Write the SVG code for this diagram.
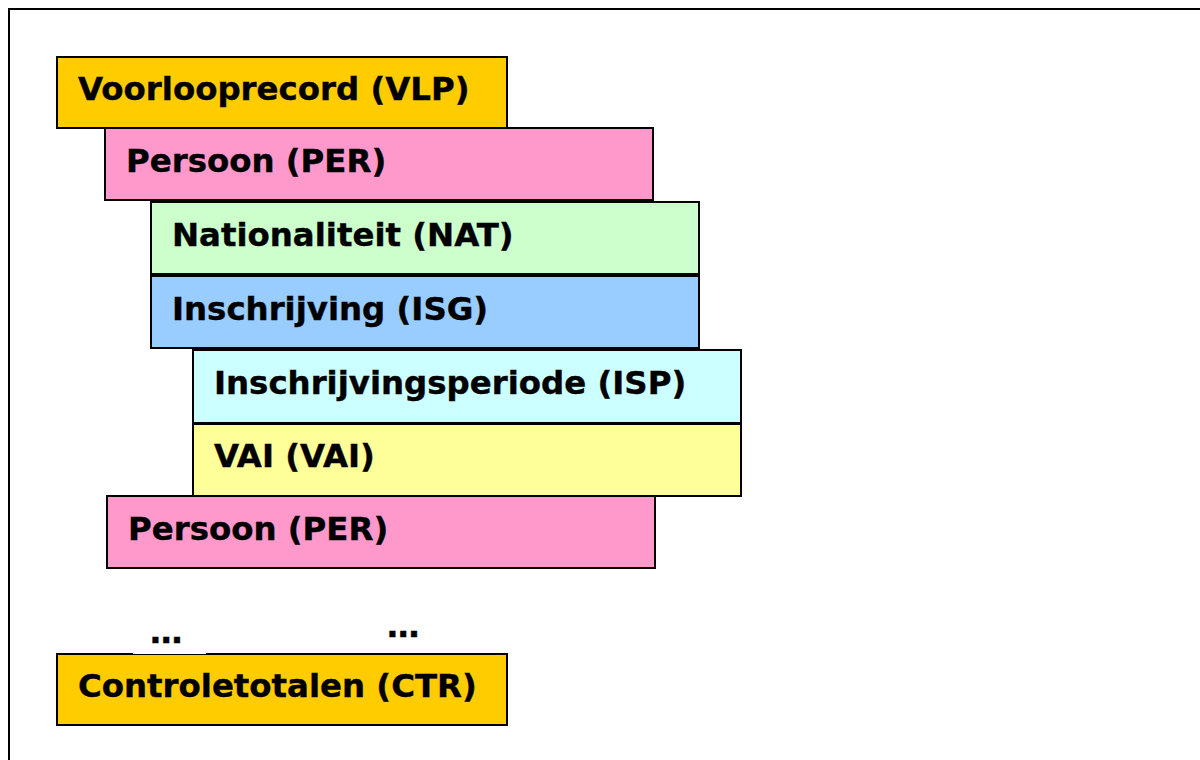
<svg xmlns="http://www.w3.org/2000/svg" width="1200" height="760" viewBox="0 0 1200 760">
<style>
.box{stroke:#000;stroke-width:2}
.lbl{font-family:"DejaVu Sans","Liberation Sans",sans-serif;font-weight:bold;font-size:32.4px;fill:#000;stroke:#000;stroke-width:0.4}
</style>
<rect x="0" y="0" width="1200" height="760" fill="#fff"/>
<rect x="9" y="9" width="1200" height="800" fill="none" stroke="#000" stroke-width="2"/>
<g id="vlp"><rect class="box" x="57" y="57" width="450" height="71" fill="#FFCC00"/><text class="lbl" x="78" y="100">Voorlooprecord (VLP)</text></g>
<g id="per1"><rect class="box" x="105" y="128" width="548" height="72" fill="#FF99CC"/><text class="lbl" x="126" y="172">Persoon (PER)</text></g>
<g id="nat"><rect class="box" x="151" y="202" width="548" height="72" fill="#CCFFCC"/><text class="lbl" x="172" y="246">Nationaliteit (NAT)</text></g>
<g id="isg"><rect class="box" x="151" y="276" width="548" height="72" fill="#99CCFF"/><text class="lbl" x="172" y="320">Inschrijving (ISG)</text></g>
<g id="isp"><rect class="box" x="193" y="350" width="548" height="73" fill="#CCFFFF"/><text class="lbl" x="214" y="394">Inschrijvingsperiode (ISP)</text></g>
<g id="vai"><rect class="box" x="193" y="424" width="548" height="72" fill="#FFFF99"/><text class="lbl" x="214" y="467">VAI (VAI)</text></g>
<g id="per2"><rect class="box" x="107" y="496" width="548" height="72" fill="#FF99CC"/><text class="lbl" x="128" y="540">Persoon (PER)</text></g>
<g id="ctr"><rect class="box" x="57" y="654" width="450" height="71" fill="#FFCC00"/><text class="lbl" x="78" y="697">Controletotalen (CTR)</text></g>
<g id="ellipsis-left"><rect x="133" y="622" width="73" height="32" fill="#fff"/><text class="lbl" x="150" y="643">…</text></g>
<g id="ellipsis-right"><text class="lbl" x="387" y="637">…</text></g>
<g id="connectors"/>
</svg>
